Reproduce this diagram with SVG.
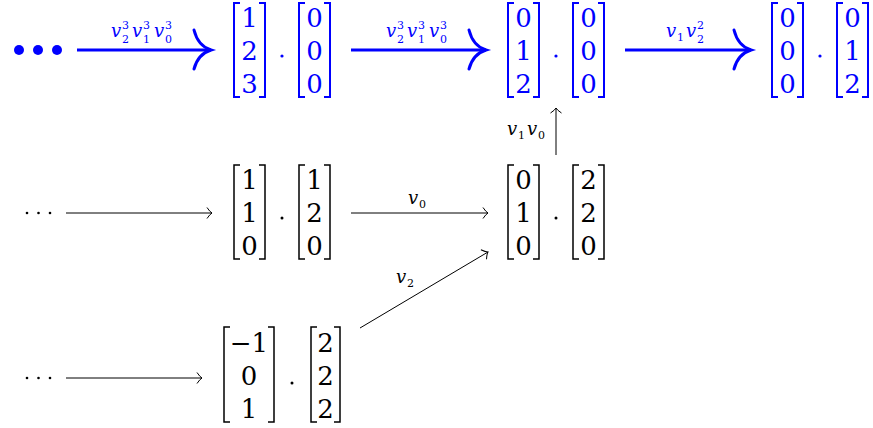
<svg xmlns="http://www.w3.org/2000/svg" width="873" height="428" viewBox="0 0 873 428">
<defs>
<style>
text{font-family:'DejaVu Serif',serif}
.num{font-size:26px;text-anchor:middle}
.lab{font-size:18px;font-style:italic}
.sm{font-size:11px;font-style:normal}
.blue{fill:#0000ff}
.blk{fill:#000}
.br{fill:none}
.bb{stroke:#0000ff;stroke-width:2}
.bk{stroke:#000;stroke-width:1.5}
.thick{stroke:#0000ff;stroke-width:3;fill:none}
.thin{stroke:#000;stroke-width:1;fill:none}
</style>
<marker id="bigHead" markerUnits="userSpaceOnUse" markerWidth="30" markerHeight="50" viewBox="-22 -25 26 50" refX="0" refY="0" orient="auto">
<path d="M-17,-20 Q-13,-4 0,0 Q-13,4 -17,19" fill="none" stroke="#0000ff" stroke-width="3" stroke-linecap="round"/>
</marker>
<marker id="smallHead" markerUnits="userSpaceOnUse" markerWidth="12" markerHeight="14" viewBox="-8 -7 10 14" refX="0" refY="0" orient="auto">
<path d="M-5,-5.5 Q-2,-1 0,0 Q-2,1 -5,5.5" fill="none" stroke="#000" stroke-width="1"/>
</marker>
</defs>
<rect width="873" height="428" fill="#fff"/>

<g id="connectors">
<line class="thick" x1="77" y1="50" x2="211" y2="50" marker-end="url(#bigHead)"/>
<line class="thick" x1="351" y1="50" x2="486" y2="50" marker-end="url(#bigHead)"/>
<line class="thick" x1="625" y1="50" x2="751" y2="50" marker-end="url(#bigHead)"/>
<line class="thin" x1="66" y1="213" x2="212" y2="213" marker-end="url(#smallHead)"/>
<line class="thin" x1="351" y1="213" x2="488" y2="213" marker-end="url(#smallHead)"/>
<line class="thin" x1="66" y1="378" x2="202" y2="378" marker-end="url(#smallHead)"/>
<line class="thin" x1="360" y1="328" x2="488" y2="252" marker-end="url(#smallHead)"/>
<line class="thin" x1="556" y1="155" x2="556" y2="108" marker-end="url(#smallHead)"/>
<text class="lab blue"><tspan x="111" y="37">v</tspan><tspan class="sm" x="122" y="29">3</tspan><tspan class="sm" x="122" y="43">2</tspan><tspan x="132" y="37">v</tspan><tspan class="sm" x="143" y="29">3</tspan><tspan class="sm" x="143" y="43">1</tspan><tspan x="154" y="37">v</tspan><tspan class="sm" x="165" y="29">3</tspan><tspan class="sm" x="165" y="43">0</tspan></text>
<text class="lab blue"><tspan x="386" y="37">v</tspan><tspan class="sm" x="397" y="29">3</tspan><tspan class="sm" x="397" y="43">2</tspan><tspan x="407" y="37">v</tspan><tspan class="sm" x="418" y="29">3</tspan><tspan class="sm" x="418" y="43">1</tspan><tspan x="429" y="37">v</tspan><tspan class="sm" x="440" y="29">3</tspan><tspan class="sm" x="440" y="43">0</tspan></text>
<text class="lab blue"><tspan x="666" y="37">v</tspan><tspan class="sm" x="677" y="41">1</tspan><tspan x="686" y="37">v</tspan><tspan class="sm" x="697" y="29">2</tspan><tspan class="sm" x="697" y="43">2</tspan></text>
<text class="lab blk"><tspan x="507" y="135">v</tspan><tspan class="sm" x="518" y="139">1</tspan><tspan x="527" y="135">v</tspan><tspan class="sm" x="538" y="139">0</tspan></text>
<text class="lab blk"><tspan x="408" y="204">v</tspan><tspan class="sm" x="419" y="208">0</tspan></text>
<text class="lab blk"><tspan x="396" y="283">v</tspan><tspan class="sm" x="407" y="287">2</tspan></text>
</g>

<g id="start-top">
<circle cx="19" cy="50" r="5" fill="#0000ff"/>
<circle cx="38" cy="50" r="5" fill="#0000ff"/>
<circle cx="57" cy="50" r="5" fill="#0000ff"/>
</g>
<g id="start-mid">
<circle cx="27" cy="213" r="1.3"/>
<circle cx="38.5" cy="213" r="1.3"/>
<circle cx="50" cy="213" r="1.3"/>
</g>
<g id="start-bot">
<circle cx="27" cy="378" r="1.3"/>
<circle cx="38.5" cy="378" r="1.3"/>
<circle cx="50" cy="378" r="1.3"/>
</g>

<g id="top1">
<path class="br bb" d="M240,3H234V97H240M259,3H265V97H259"/>
<text class="num blue" x="249.5" y="26.5">1</text><text class="num blue" x="249.5" y="59.5">2</text><text class="num blue" x="249.5" y="92.5">3</text>
<circle cx="282" cy="56" r="1.6" fill="#0000ff"/>
<path class="br bb" d="M305,3H299V97H305M324,3H330V97H324"/>
<text class="num blue" x="314.5" y="26.5">0</text><text class="num blue" x="314.5" y="59.5">0</text><text class="num blue" x="314.5" y="92.5">0</text>
</g>
<g id="top2">
<path class="br bb" d="M514,3H508V97H514M533,3H539V97H533"/>
<text class="num blue" x="523.5" y="26.5">0</text><text class="num blue" x="523.5" y="59.5">1</text><text class="num blue" x="523.5" y="92.5">2</text>
<circle cx="556" cy="56" r="1.6" fill="#0000ff"/>
<path class="br bb" d="M579,3H573V97H579M598,3H604V97H598"/>
<text class="num blue" x="588.5" y="26.5">0</text><text class="num blue" x="588.5" y="59.5">0</text><text class="num blue" x="588.5" y="92.5">0</text>
</g>
<g id="top3">
<path class="br bb" d="M778,3H772V97H778M797,3H803V97H797"/>
<text class="num blue" x="787.5" y="26.5">0</text><text class="num blue" x="787.5" y="59.5">0</text><text class="num blue" x="787.5" y="92.5">0</text>
<circle cx="820" cy="56" r="1.6" fill="#0000ff"/>
<path class="br bb" d="M843,3H837V97H843M862,3H868V97H862"/>
<text class="num blue" x="852.5" y="26.5">0</text><text class="num blue" x="852.5" y="59.5">1</text><text class="num blue" x="852.5" y="92.5">2</text>
</g>

<g id="mid1">
<path class="br bk" d="M240,165H234V259H240M259,165H265V259H259"/>
<text class="num blk" x="249.5" y="188.5">1</text><text class="num blk" x="249.5" y="221.5">1</text><text class="num blk" x="249.5" y="254.5">0</text>
<circle cx="282" cy="218" r="1.5"/>
<path class="br bk" d="M305,165H299V259H305M324,165H330V259H324"/>
<text class="num blk" x="314.5" y="188.5">1</text><text class="num blk" x="314.5" y="221.5">2</text><text class="num blk" x="314.5" y="254.5">0</text>
</g>
<g id="mid2">
<path class="br bk" d="M514,165H508V259H514M533,165H539V259H533"/>
<text class="num blk" x="523.5" y="188.5">0</text><text class="num blk" x="523.5" y="221.5">1</text><text class="num blk" x="523.5" y="254.5">0</text>
<circle cx="556" cy="218" r="1.5"/>
<path class="br bk" d="M579,165H573V259H579M598,165H604V259H598"/>
<text class="num blk" x="588.5" y="188.5">2</text><text class="num blk" x="588.5" y="221.5">2</text><text class="num blk" x="588.5" y="254.5">0</text>
</g>
<g id="bot1">
<path class="br bk" d="M230,327H224V422H230M268,327H274V422H268"/>
<text class="num blk" x="249" y="351.5">−1</text><text class="num blk" x="249" y="384.5">0</text><text class="num blk" x="249" y="417.5">1</text>
<circle cx="292" cy="383" r="1.5"/>
<path class="br bk" d="M317,327H311V422H317M334,327H340V422H334"/>
<text class="num blk" x="325.5" y="351.5">2</text><text class="num blk" x="325.5" y="384.5">2</text><text class="num blk" x="325.5" y="417.5">2</text>
</g>
</svg>
